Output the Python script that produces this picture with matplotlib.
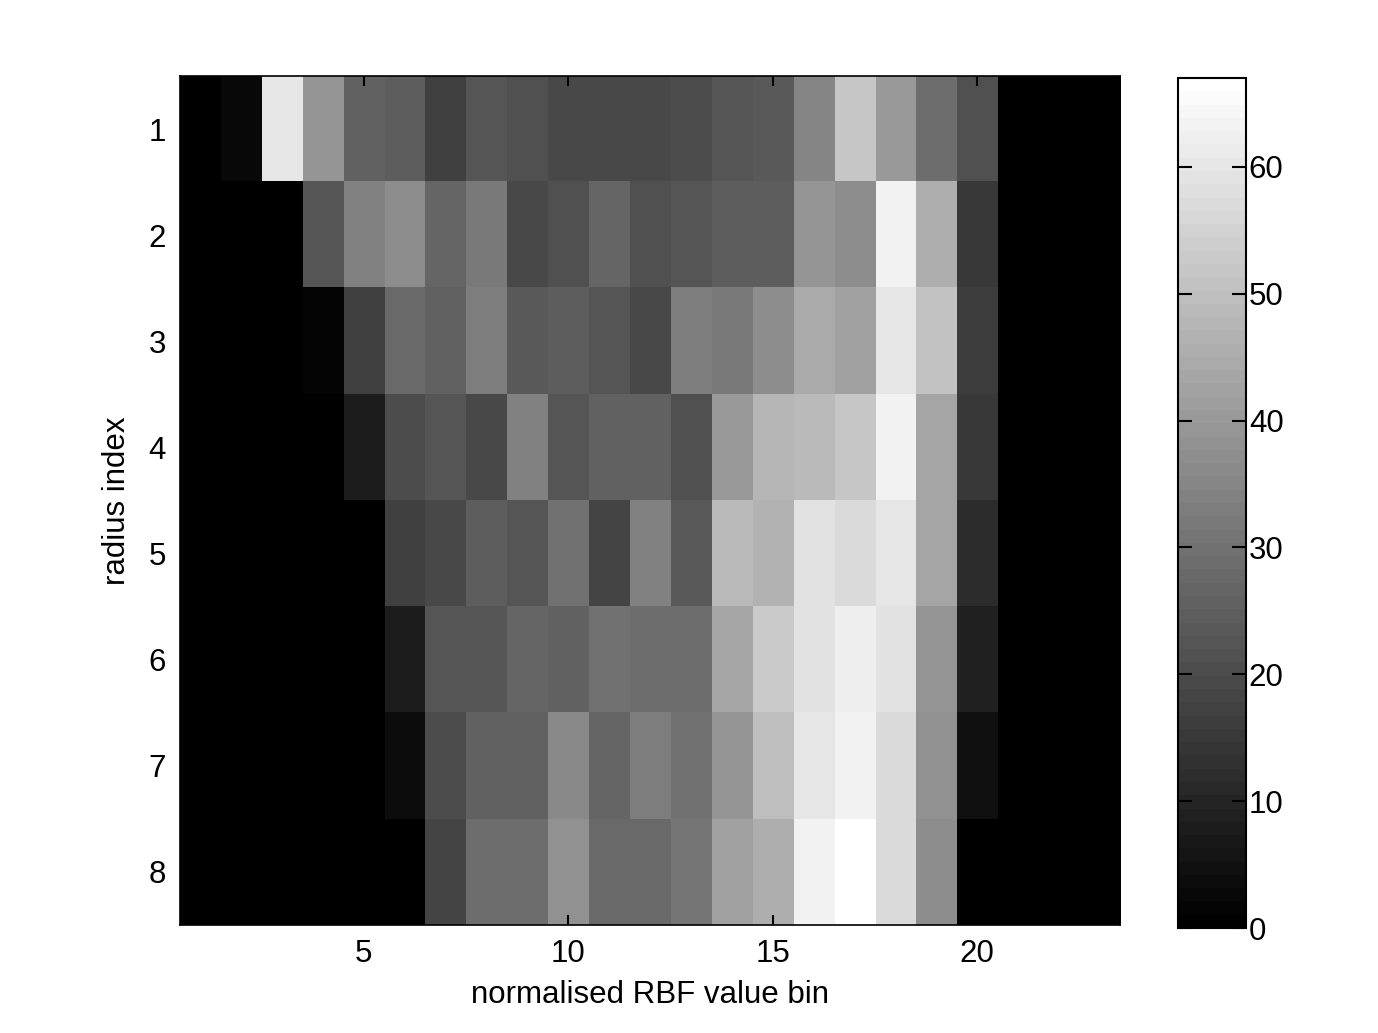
import numpy as np
import matplotlib
matplotlib.use('Agg')
import matplotlib.pyplot as plt

# histogram counts per radius index (rows) and RBF value bin (cols 1..23)
row1 = [0, 3, 60, 39, 26, 25, 17, 23, 21.5, 19.5, 19.5, 19.5, 20, 22, 23.6, 35, 51.5, 40.5, 28.4, 21.5, 0, 0, 0]
row2 = [0, 0, 0, 22.9, 33.6, 36.8, 26.8, 32, 19.5, 21.5, 26.8, 21, 23, 24.7, 24.7, 39.4, 37.3, 63.6, 46, 15.2, 0, 0, 0]
row3 = [0, 0, 0, 1.3, 17.3, 27.6, 25.7, 33, 24, 25, 22, 19.5, 33, 31.5, 37.3, 44.7, 42.6, 60.4, 50.4, 16.3, 0, 0, 0]
row4 = [0, 0, 0, 0, 7.4, 20, 22, 19.5, 34, 22, 25.2, 25.2, 21.5, 40.5, 47.8, 48.3, 51.5, 63.6, 43.6, 15.2, 0, 0, 0]
row5 = [0, 0, 0, 0, 0, 17.3, 19.5, 24.7, 23, 29.4, 17.9, 33.6, 23.6, 48.3, 46.2, 58.8, 56.8, 60.4, 43, 11.6, 0, 0, 0]
row6 = [0, 0, 0, 0, 0, 7.4, 22.3, 22.3, 26.8, 25.2, 29.4, 28.4, 28.4, 43, 52.5, 58.8, 62, 59.4, 39.4, 8.4, 0, 0, 0]
row7 = [0, 0, 0, 0, 0, 3.7, 20.5, 25.7, 25.7, 36.2, 26.3, 32.6, 29.4, 39.4, 50, 60.4, 63.6, 57.3, 37.8, 4.2, 0, 0, 0]
row8 = [0, 0, 0, 0, 0, 0, 17.9, 28.9, 28.9, 37.8, 27.3, 27.9, 30.5, 42.6, 45.7, 63, 67, 57.3, 36.8, 0, 0, 0, 0]

xticks = [5, 10, 15, 20]
yticks = [1, 2, 3, 4, 5, 6, 7, 8]
cbar_ticks = [0, 10, 20, 30, 40, 50, 60]

data = np.array([row1, row2, row3, row4, row5, row6, row7, row8])
nrows, ncols = data.shape

plt.rcParams['font.family'] = ['Liberation Sans', 'DejaVu Sans']
fs = 22.5

fig = plt.figure(figsize=(13.78, 10.33), dpi=100)
ax = fig.add_axes([0.1306, 0.1045, 0.6822, 0.8219])
cax = fig.add_axes([0.8549, 0.1016, 0.0493, 0.8229])

cmap = plt.get_cmap('gray', 64)
im = ax.imshow(data, cmap=cmap, vmin=0, vmax=67, aspect='auto', interpolation='nearest',
               extent=[0.5, ncols + 0.5, nrows + 0.5, 0.5])

ax.set_xticks(xticks)
ax.set_yticks(yticks)
ax.tick_params(direction='in', length=7, width=1.5, top=True, right=True, labelsize=fs, pad=10)
ax.set_xlabel('normalised RBF value bin', fontsize=fs, labelpad=8)
ax.set_ylabel('radius index', fontsize=fs, labelpad=12)
for s in ax.spines.values():
    s.set_linewidth(1.2)

cb = fig.colorbar(im, cax=cax, ticks=cbar_ticks)
cax.tick_params(direction='in', length=10, width=1.5, left=True, right=True, labelsize=fs, pad=2)
cb.outline.set_linewidth(1.5)

fig.savefig('out.png', dpi=100)
